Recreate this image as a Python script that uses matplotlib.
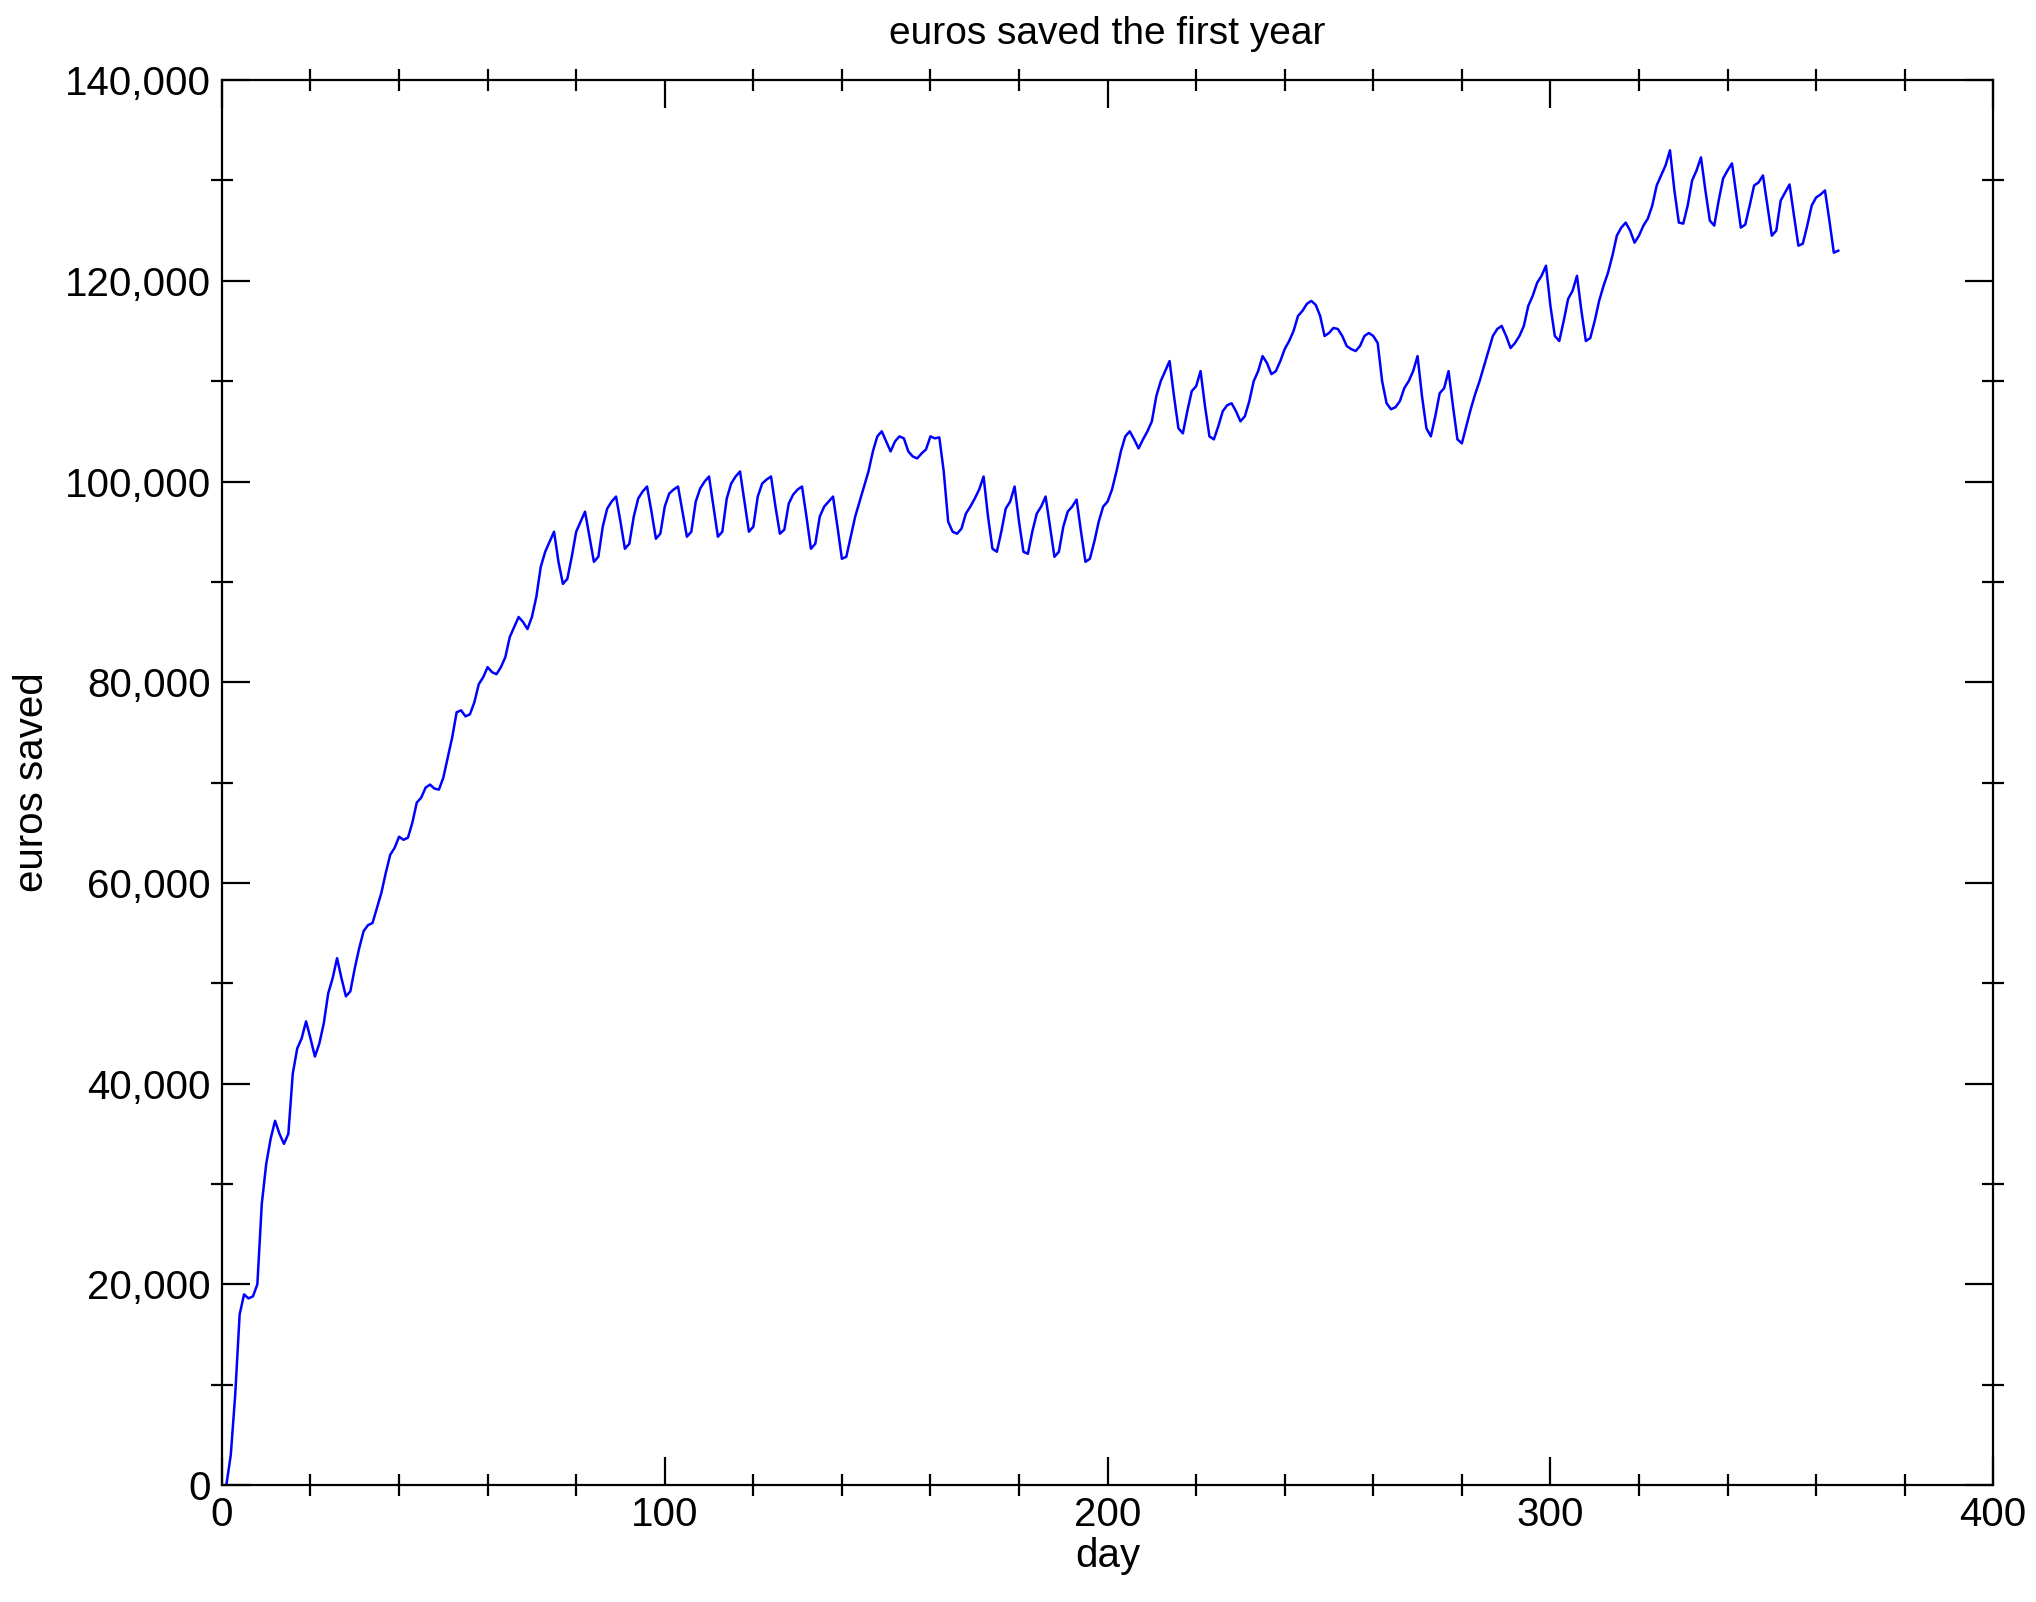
import numpy as np
import matplotlib
matplotlib.use("Agg")
import matplotlib.pyplot as plt
from matplotlib.ticker import MultipleLocator, FuncFormatter

savings_k = [
    0, 3, 9, 17, 19, 18.6, 18.8, 20, 28, 32,
    34.5, 36.3, 35, 34, 35, 41, 43.5, 44.5, 46.2, 44.5,
    42.7, 44, 46, 49, 50.5, 52.5, 50.5, 48.7, 49.2, 51.5,
    53.5, 55.2, 55.8, 56, 57.5, 59, 61, 62.8, 63.5, 64.6,
    64.3, 64.5, 66, 68, 68.5, 69.5, 69.8, 69.4, 69.3, 70.5,
    72.5, 74.5, 77, 77.2, 76.6, 76.8, 78, 79.8, 80.5, 81.5,
    81, 80.8, 81.5, 82.5, 84.5, 85.5, 86.5, 86, 85.3, 86.5,
    88.5, 91.5, 93, 94, 95, 92, 89.8, 90.3, 92.5, 95,
    96, 97, 94.5, 92, 92.5, 95.5, 97.3, 98, 98.5, 96,
    93.3, 93.8, 96.5, 98.3, 99, 99.5, 97, 94.3, 94.8, 97.5,
    98.8, 99.2, 99.5, 97, 94.5, 95, 98, 99.3, 100, 100.5,
    97.5, 94.5, 95, 98.3, 99.8, 100.5, 101, 98, 95, 95.5,
    98.5, 99.8, 100.2, 100.5, 97.5, 94.8, 95.2, 97.8, 98.7, 99.2,
    99.5, 96.5, 93.3, 93.8, 96.5, 97.5, 98, 98.5, 95.5, 92.3,
    92.5, 94.5, 96.5, 98, 99.5, 101, 103, 104.5, 105, 104,
    103, 104, 104.5, 104.3, 103, 102.5, 102.3, 102.8, 103.2, 104.5,
    104.3, 104.4, 101, 96, 95, 94.8, 95.3, 96.8, 97.5, 98.3,
    99.2, 100.5, 96.5, 93.3, 93, 95, 97.3, 98, 99.5, 96,
    93, 92.8, 95, 96.8, 97.5, 98.5, 95.5, 92.5, 93, 95.5,
    97, 97.5, 98.2, 95, 92, 92.3, 94, 96, 97.5, 98,
    99.2, 101, 103, 104.5, 105, 104.2, 103.3, 104.2, 105, 106,
    108.5, 110, 111, 112, 108.5, 105.3, 104.8, 107, 109, 109.5,
    111, 107.5, 104.5, 104.2, 105.5, 107, 107.6, 107.8, 107, 106,
    106.5, 108, 110, 111, 112.5, 111.8, 110.7, 111, 112, 113.2,
    114, 115, 116.5, 117, 117.7, 118, 117.6, 116.5, 114.5, 114.8,
    115.3, 115.2, 114.5, 113.5, 113.2, 113, 113.5, 114.5, 114.8, 114.5,
    113.8, 110, 107.8, 107.2, 107.4, 108, 109.3, 110, 111, 112.5,
    108.5, 105.3, 104.5, 106.5, 108.8, 109.3, 111, 107.5, 104.2, 103.8,
    105.5, 107.2, 108.7, 110, 111.5, 113, 114.5, 115.2, 115.5, 114.5,
    113.3, 113.8, 114.5, 115.5, 117.5, 118.5, 119.8, 120.5, 121.5, 117.5,
    114.5, 114, 116, 118.2, 119, 120.5, 117, 114, 114.3, 116,
    118, 119.5, 120.8, 122.5, 124.5, 125.3, 125.8, 125, 123.8, 124.5,
    125.5, 126.2, 127.5, 129.5, 130.5, 131.5, 133, 129, 125.8, 125.7,
    127.5, 130, 131, 132.3, 129, 126, 125.5, 128, 130.2, 131,
    131.7, 128.5, 125.3, 125.6, 127.5, 129.5, 129.8, 130.5, 127.5, 124.5,
    125, 128, 128.8, 129.6, 126.5, 123.5, 123.7, 125.5, 127.5, 128.3,
    128.6, 129, 126, 122.8, 123,
]
days = np.arange(1, len(savings_k) + 1)
euros = np.array(savings_k) * 1000

plt.rcParams['font.family'] = ['Liberation Sans', 'DejaVu Sans']
fig = plt.figure(figsize=(20.36, 16.02), dpi=100)
ax = fig.add_axes([0.109, 0.073, 0.870, 0.877])
ax.plot(days, euros, color='#0000ff', lw=1.8)
ax.set_xlim(0, 400)
ax.set_ylim(0, 140000)
ax.xaxis.set_major_locator(MultipleLocator(100))
ax.xaxis.set_minor_locator(MultipleLocator(20))
ax.yaxis.set_major_locator(MultipleLocator(20000))
ax.yaxis.set_minor_locator(MultipleLocator(10000))
ax.yaxis.set_major_formatter(FuncFormatter(lambda v, p: f"{int(v):,}"))
ax.tick_params(which='major', direction='in', length=20, width=1.6,
               top=True, right=True, labelsize=29, pad=8)
ax.tick_params(which='minor', direction='inout', length=16, width=1.6,
               top=True, right=True)
for s in ax.spines.values():
    s.set_linewidth(1.6)
ax.set_xlabel('day', fontsize=29, labelpad=2)
ax.set_ylabel('euros saved', fontsize=29, labelpad=10)
ax.set_title('euros saved the first year', fontsize=28, pad=26)
fig.savefig('out.png', dpi=100)
